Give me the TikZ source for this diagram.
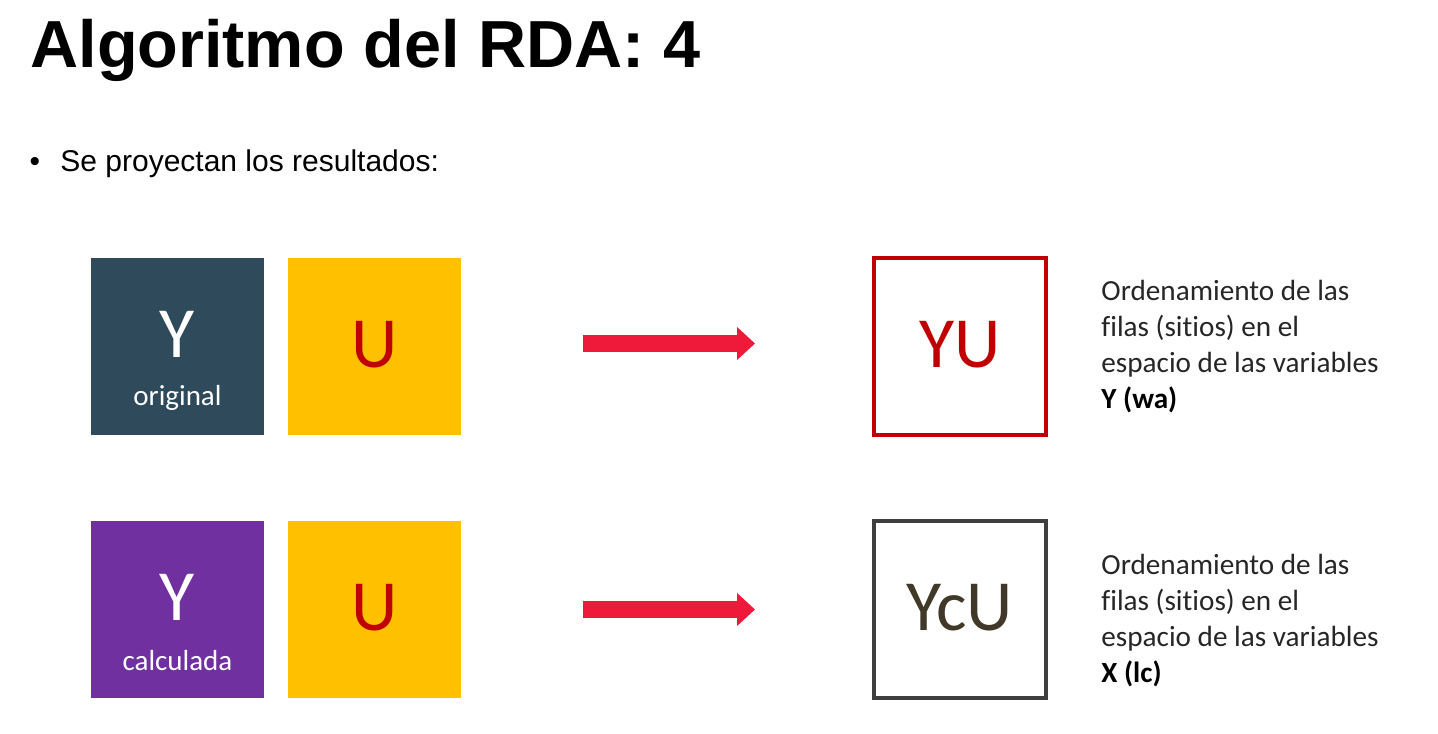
\documentclass[tikz,border=0pt]{standalone}
\usepackage{fontspec}
\setmainfont{Carlito}[Ligatures=NoCommon]
\newfontfamily\headfont{Liberation Sans}
\usetikzlibrary{arrows.meta,positioning}
\definecolor{slate}{HTML}{2E4A5B}
\definecolor{violet}{HTML}{7030A0}
\definecolor{gold}{HTML}{FFC000}
\definecolor{darkred}{HTML}{C00000}
\definecolor{arrowred}{HTML}{EF1A3A}
\definecolor{boxgray}{HTML}{3F3F3F}
\definecolor{olive}{HTML}{40392A}
\definecolor{textgray}{HTML}{262626}
\tikzset{
    block/.style={minimum width=86.5pt,minimum height=88.5pt,inner sep=0pt,outer sep=0pt},
    result/.style={draw,line width=2pt,minimum width=86pt,minimum height=88.5pt,inner sep=0pt,outer sep=0pt},
    bigletter/.style={inner sep=0pt,font=\fontsize{36}{40}\selectfont},
    caption/.style={inner sep=0pt,anchor=base,text=white,font=\fontsize{14.5}{16}\selectfont},
    desc/.style={inner sep=0pt,align=left,text=textgray,font=\fontsize{14.6}{18}\selectfont},
    proj/.style={-{Triangle[length=9pt,width=16pt]},line width=8.5pt,draw=arrowred,
        shorten <=61pt,shorten >=59.5pt}
}

\begin{document}
\begin{tikzpicture}

    \useasboundingbox (0,0) rectangle (719pt,-366.5pt);

    % heading
    \node (title) [anchor=base west,inner sep=0pt,font=\headfont\bfseries\fontsize{33.3}{40}\selectfont] at (15pt,-34pt) {Algoritmo del RDA: 4};
    \node (point) [anchor=base west,inner sep=0pt,font=\headfont\fontsize{15}{18}\selectfont] at (30pt,-85.5pt) {Se proyectan los resultados:};
    \node (bullet) [anchor=base,inner sep=0pt,font=\headfont\fontsize{15}{18}\selectfont] at (17.5pt,-85.5pt) {•};

    % first row
    \node[block,fill=slate] (Y1) at (88.75pt,-173.25pt) {};
    \node[bigletter,text=white] (Y1 letter) at ([yshift=6pt]Y1.center) {Y};
    \node[caption] (Y1 caption) at ([yshift=15pt]Y1.south) {original};
    \node[block,fill=gold] (U1) [right=12pt of Y1] {};
    \node[bigletter,text=darkred] (U1 letter) at ([yshift=1pt]U1.center) {U};
    \node[result,draw=darkred] (YU) [right=206.5pt of U1] {};
    \node[bigletter,text=darkred] (YU letter) at ([yshift=1pt]YU.center) {YU};
    \node[desc] (YU note) [right=27.5pt of YU] {Ordenamiento de las\\filas (sitios) en el\\espacio de las variables\\\textcolor{black}{\bfseries Y (wa)}};
    \draw[proj] ([yshift=1.5pt]U1.east) -- ([yshift=1.5pt]YU.west);

    % second row
    \node[block,fill=violet] (Y2) [below=43pt of Y1] {};
    \node[bigletter,text=white] (Y2 letter) at ([yshift=6pt]Y2.center) {Y};
    \node[caption] (Y2 caption) at ([yshift=14pt]Y2.south) {calculada};
    \node[block,fill=gold] (U2) [right=12pt of Y2] {};
    \node[bigletter,text=darkred] (U2 letter) at ([yshift=1pt]U2.center) {U};
    \node[result,draw=boxgray] (YcU) [right=206.5pt of U2] {};
    \node[bigletter,text=olive] (YcU letter) at ([yshift=1pt]YcU.center) {YcU};
    \node[desc] (YcU note) [right=27.5pt of YcU,yshift=-5.5pt] {Ordenamiento de las\\filas (sitios) en el\\espacio de las variables\\\textcolor{black}{\bfseries X (lc)}};
    \draw[proj] (U2) -- (YcU);

\end{tikzpicture}
\end{document}
